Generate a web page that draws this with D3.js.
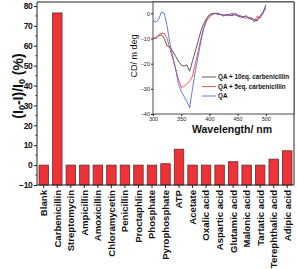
<!DOCTYPE html>
<html>
<head>
<meta charset="utf-8">
<script src="https://cdn.jsdelivr.net/npm/d3@7"></script>
<style>
  html, body { margin: 0; padding: 0; background: #fff; }
  svg { display: block; font-family: "Liberation Sans", Arial, sans-serif; }
</style>
</head>
<body>
<div id="chart"></div>
<script>
// bar chart data: quenching percentage for each analyte
var categories = ["Blank", "Carbenicillin", "Streptomycin", "Ampicillin", "Amoxicillin",
  "Chloramycetin", "Penicillin", "Proctaphlin", "Phosphate", "Pyrophosphate", "ATP",
  "Acetate", "Oxalic acid", "Aspartic acid", "Glutamic acid", "Malonic acid",
  "Tartatic acid", "Terephthalic acid", "Adipic acid"];
var quench = [0, 76.5, 0, 0, 0, 0, 0, 0, 0, 0.7, 8, 0, 0, 0, 1.7, 0, 0, 3, 7.2];
var yTicks = [-10, 0, 10, 20, 30, 40, 50, 60, 70, 80];

// inset CD spectra, every 5 nm from 300 to 500
var wavelength = [300, 305, 310, 315, 320, 325, 330, 335, 340, 345, 350, 355, 360, 365, 370,
  375, 380, 385, 390, 395, 400, 405, 410, 415, 420, 425, 430, 435, 440, 445, 450, 455, 460,
  465, 470, 475, 480, 485, 490, 495, 500];
var cd10eq = [-10, -10, -9, -8.5, -10, -13, -13.5, -15, -17, -19, -20.5, -21, -20.5, -23, -19,
  -15, -11, -7, -4, -2, -0.5, 0, 0, -0.5, -0.5, -1, -0.5, -0.5, -1, -0.5, -1, -1.5, -1.5,
  -1, -2, -2, -2.5, -3, -1, 0.5, 2];
var cd5eq = [-10, -9.5, -8.5, -8, -8, -10, -14, -18, -22, -26, -29.5, -29, -28, -27, -25,
  -20, -15, -10, -5.5, -2.5, -1, -0.5, 0, 0, -0.5, -0.5, -1, -0.5, 0, -0.5, -1, -1, -1.5,
  -2, -1.5, -2, -3, -1, -2, 0, 3.5];
var cdQA = [-3, -3.5, -2.5, 0.5, 0, -5, -12, -17, -22, -28, -31, -33, -35, -37.5, -30,
  -23, -17, -11, -6, -3, -1.5, -0.5, 0, 0, -0.5, -1, -0.5, -1, -0.5, 0, -0.5, -1, -1.5,
  -1, -2, -2.5, -3.5, -2, -1, 0, 3];
var insetXTicks = [300, 350, 400, 450, 500];
var insetYTicks = [0, -10, -20, -30, -40];
var legendNames = ["QA + 10eq. carbenicillin", "QA + 5eq. carbenicillin", "QA"];

var W = 297, H = 269;
var svg = d3.select("#chart").append("svg").attr("width", W).attr("height", H);

// main plot area (don't call it "top", window.top is taken)
var mL = 37, mR = 294, mT = 2, mB = 185;

var x = d3.scaleBand().domain(categories).range([mL, mR]).paddingInner(0.3).paddingOuter(0.15);
var y = d3.scaleLinear().domain([-10, 82]).range([mB, mT]);

// bars start from the bottom of the axis
svg.selectAll("rect.bar")
  .data(categories)
  .enter().append("rect")
  .attr("class", "bar")
  .attr("x", function (d) { return x(d); })
  .attr("width", x.bandwidth())
  .attr("y", function (d, i) { return y(quench[i]); })
  .attr("height", function (d, i) { return y(-10) - y(quench[i]); })
  .attr("fill", "#ee3338")
  .attr("stroke", "#6a2a2a")
  .attr("stroke-width", 0.8);

// frame top + right
svg.append("path")
  .attr("d", "M" + mL + "," + mT + "H" + mR + "V" + mB)
  .attr("fill", "none").attr("stroke", "#222").attr("stroke-width", 1);

// left axis
var yAxis = svg.append("g").attr("transform", "translate(" + mL + ",0)")
  .call(d3.axisLeft(y).tickValues(yTicks).tickSize(3).tickPadding(1.5));
yAxis.selectAll("text").style("font-size", "8.5px").style("font-weight", "bold")
  .style("letter-spacing", "-0.3px").attr("fill", "#111");
yAxis.selectAll("line, path").attr("stroke", "#222");
yAxis.select("path").attr("d", "M0," + mB + "V" + mT);
// minor ticks
yAxis.selectAll("line.minor")
  .data(d3.range(-5, 81, 10))
  .enter().append("line").attr("class", "minor")
  .attr("x1", -1.5).attr("x2", 0)
  .attr("y1", function (d) { return y(d); }).attr("y2", function (d) { return y(d); })
  .attr("stroke", "#222");

// bottom axis with rotated category labels
var xAxis = svg.append("g").attr("transform", "translate(0," + mB + ")")
  .call(d3.axisBottom(x).tickSize(3).tickSizeOuter(0));
xAxis.select("path").attr("d", "M" + mL + ",0H" + mR).attr("stroke", "#222");
xAxis.selectAll("line").attr("stroke", "#222");
xAxis.selectAll("text")
  .attr("transform", "rotate(-90)")
  .attr("x", -5).attr("y", 0).attr("dy", "0.35em")
  .style("text-anchor", "end")
  .style("font-size", "9.6px").style("font-weight", "bold").attr("fill", "#111");

// y axis title with subscripts
var yt = svg.append("text")
  .attr("transform", "translate(23,86) rotate(-90)")
  .attr("text-anchor", "middle")
  .style("font-size", "14px").style("font-weight", "bold").attr("fill", "#111");
yt.append("tspan").text("(I");
yt.append("tspan").text("0").attr("baseline-shift", "-25%").style("font-size", "9px");
yt.append("tspan").text("-I)/I");
yt.append("tspan").text("0").attr("baseline-shift", "-25%").style("font-size", "9px");
yt.append("tspan").text(" (%)");

// inset CD spectra
var iL = 153, iR = 294, iT = 2, iB = 114;
var ix = d3.scaleLinear().domain([300, 550]).range([iL, iR]);
var iy = d3.scaleLinear().domain([-40, 4.5]).range([iB, iT]);

svg.append("rect")
  .attr("x", iL).attr("y", iT).attr("width", iR - iL).attr("height", iB - iT)
  .attr("fill", "#fff").attr("stroke", "#222").attr("stroke-width", 0.8);

var ixAxis = svg.append("g").attr("transform", "translate(0," + iB + ")")
  .call(d3.axisBottom(ix).tickValues(insetXTicks).tickSize(2).tickPadding(1));
ixAxis.select("path").remove();
ixAxis.selectAll("text").style("font-size", "5.5px").attr("fill", "#222");
ixAxis.selectAll("line").attr("stroke", "#222");

var iyAxis = svg.append("g").attr("transform", "translate(" + iL + ",0)")
  .call(d3.axisLeft(iy).tickValues(insetYTicks).tickSize(2).tickPadding(1));
iyAxis.select("path").remove();
iyAxis.selectAll("text").style("font-size", "5.5px").attr("fill", "#222");
iyAxis.selectAll("line").attr("stroke", "#222");

svg.append("text")
  .attr("transform", "translate(137,56) rotate(-90)")
  .attr("text-anchor", "middle")
  .style("font-size", "9px").attr("fill", "#111")
  .text("CD/ m deg");

svg.append("text")
  .attr("x", 232).attr("y", 133)
  .attr("text-anchor", "middle")
  .style("font-size", "10.5px").style("font-weight", "bold").attr("fill", "#111")
  .text("Wavelength/ nm");

var series = [
  { name: legendNames[0], values: cd10eq, color: "#333333" },
  { name: legendNames[1], values: cd5eq, color: "#ff2a2a" },
  { name: legendNames[2], values: cdQA, color: "#3e5fcf" }
];

var line = d3.line()
  .x(function (d) { return ix(d[0]); })
  .y(function (d) { return iy(d[1]); });

series.forEach(function (s) {
  svg.append("path")
    .datum(wavelength.map(function (w, i) { return [w, s.values[i]]; }))
    .attr("d", line)
    .attr("fill", "none")
    .attr("stroke", s.color)
    .attr("stroke-width", 0.8);
});

// legend
series.forEach(function (s, i) {
  var ly = 77 + i * 9.5;
  svg.append("line")
    .attr("x1", 202).attr("x2", 216).attr("y1", ly).attr("y2", ly)
    .attr("stroke", s.color).attr("stroke-width", 0.8);
  svg.append("text")
    .attr("x", 218).attr("y", ly).attr("dy", "0.35em")
    .style("font-size", "6.3px").style("font-weight", "bold").attr("fill", "#111")
    .text(s.name);
});
</script>
</body>
</html>
